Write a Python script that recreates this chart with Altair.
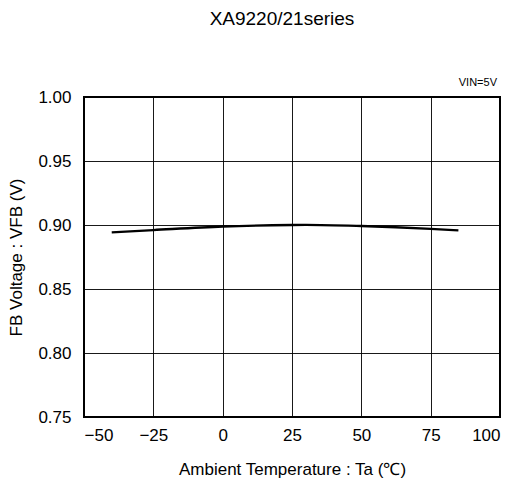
import altair as alt
import pandas as pd

temps = [-40, -25, 0, 25, 30, 50, 75, 85]
vfb = [0.8942, 0.8960, 0.8988, 0.9000, 0.9001, 0.8992, 0.8970, 0.8958]

df = pd.DataFrame({"Ta": temps, "VFB": vfb})
FONT = "Liberation Sans"

base = alt.Chart(df)

line = base.mark_line(color="black", strokeWidth=2.4, interpolate="monotone").encode(
    x=alt.X("Ta:Q", scale=alt.Scale(domain=[-50, 100], nice=False),
            axis=alt.Axis(values=[-50, -25, 0, 25, 50, 75, 100], title="Ambient Temperature : Ta (℃)",
                          format="d", ticks=False, labelPadding=10, titlePadding=18,
                          gridColor="black", gridOpacity=0.9, domain=False)),
    y=alt.Y("VFB:Q", scale=alt.Scale(domain=[0.75, 1.0], nice=False, zero=False),
            axis=alt.Axis(values=[0.75, 0.80, 0.85, 0.90, 0.95, 1.00], title="FB Voltage : VFB (V)",
                          format=".2f", ticks=False, labelPadding=13, titlePadding=12,
                          gridColor="black", gridOpacity=0.9, domain=False)),
)

note = alt.Chart(pd.DataFrame({"t": ["VIN=5V"]})).mark_text(
    align="right", baseline="middle", fontSize=11, font=FONT, color="black"
).encode(text="t:N", x=alt.value(413), y=alt.value(-14))

chart = alt.layer(line, note).properties(
    width=416, height=320,
    autosize=alt.AutoSizeParams(type="none"),
    padding={"left": 76, "top": 89, "right": 5, "bottom": 66},
    title=alt.TitleParams("XA9220/21series", anchor="middle", dx=-10, offset=48,
                          fontSize=19, font=FONT, fontWeight="normal", color="black"),
).configure_axis(
    labelFont=FONT, titleFont=FONT, labelFontSize=17, titleFontSize=17,
    labelColor="black", titleColor="black", titleFontWeight="normal",
).configure_view(stroke="black", strokeWidth=2)

chart.save("out.html", embed_options={"renderer": "svg", "actions": False})
